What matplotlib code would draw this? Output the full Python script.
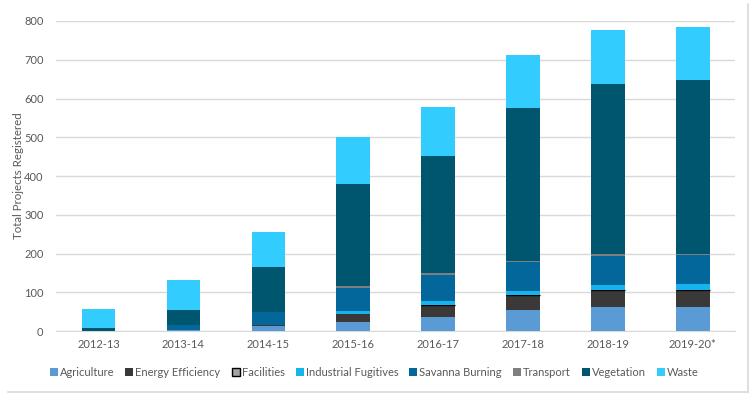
import matplotlib
matplotlib.use("Agg", force=True)
import matplotlib.pyplot as plt
import numpy as np
from matplotlib.lines import Line2D

plt.rcParams['font.family'] = ['Lato', 'DejaVu Sans']

years = ["2012-13", "2013-14", "2014-15", "2015-16", "2016-17", "2017-18", "2018-19", "2019-20*"]

agriculture = [0, 3, 13, 24, 35, 54, 61, 61]
energy_efficiency = [0, 0, 2, 21, 32, 39, 44, 45]
facilities = [0, 0, 0, 0, 1, 1, 1, 1]
industrial_fugitives = [0, 0, 0, 6, 9, 10, 13, 14]
savanna_burning = [1, 12, 35, 60, 68, 73, 75, 74]
transport = [0, 0, 0, 4, 5, 4, 5, 5]
vegetation = [8, 40, 115, 265, 302, 394, 439, 447]
waste = [48, 77, 91, 120, 126, 136, 139, 137]

series = [
    ("Agriculture", agriculture, "#5B9BD5"),
    ("Energy Efficiency", energy_efficiency, "#3B3838"),
    ("Facilities", facilities, "#A5A5A5"),
    ("Industrial Fugitives", industrial_fugitives, "#16B4EE"),
    ("Savanna Burning", savanna_burning, "#03679C"),
    ("Transport", transport, "#7F7F7F"),
    ("Vegetation", vegetation, "#00566F"),
    ("Waste", waste, "#33CCFF"),
]

text_color = "#595959"

fig = plt.figure(figsize=(7.53, 3.96), dpi=100)
ax = fig.add_axes([0.0744, 0.164, 0.902, 0.783])

x = np.arange(len(years))
bottom = np.zeros(len(years))
for name, vals, color in series:
    vals = np.array(vals, dtype=float)
    if name == "Facilities":
        edges = ["black" if v > 0 else "none" for v in vals]
        ax.bar(x, vals, 0.395, bottom=bottom, color=color, edgecolor=edges,
               linewidth=1.0, zorder=3, label=name)
    else:
        ax.bar(x, vals, 0.395, bottom=bottom, color=color, linewidth=0,
               zorder=3, label=name)
    bottom += vals

ax.set_xlim(-0.5, len(years) - 0.5)
ax.set_ylim(0, 800)
ax.set_yticks(range(0, 801, 100))
ax.set_xticks(x)
ax.set_xticklabels(years)
ax.grid(axis='y', color='#D9D9D9', linewidth=1.0, zorder=0)
for s in ['top', 'right', 'left']:
    ax.spines[s].set_visible(False)
ax.spines['bottom'].set_color('#D9D9D9')
ax.tick_params(axis='both', length=0, colors=text_color, labelsize=8)
ax.tick_params(axis='y', pad=9)
ax.tick_params(axis='x', pad=6)
ax.set_ylabel("Total Projects Registered", color=text_color, fontsize=8.3, labelpad=0)

# legend with square markers
handles = []
for name, vals, color in series:
    ec = "black" if name == "Facilities" else color
    handles.append(Line2D([], [], marker='s', linestyle='none', markersize=5.5,
                          markerfacecolor=color, markeredgecolor=ec,
                          markeredgewidth=1.0 if name == "Facilities" else 0,
                          label=name))
leg = fig.legend(handles=handles, loc='center', bbox_to_anchor=(0.497, 0.06), ncol=8,
                 frameon=False, fontsize=8, handlelength=0.7, handletextpad=0.2,
                 columnspacing=1.0)
for t in leg.get_texts():
    t.set_color(text_color)

# chart area border (right and bottom)
fig.add_artist(Line2D([0.993, 0.993], [0.01, 0.99], transform=fig.transFigure,
                      color='#D9D9D9', linewidth=1.2))
fig.add_artist(Line2D([0.01, 0.993], [0.01, 0.01], transform=fig.transFigure,
                      color='#D9D9D9', linewidth=1.2))

fig.savefig("out.png", dpi=100)
